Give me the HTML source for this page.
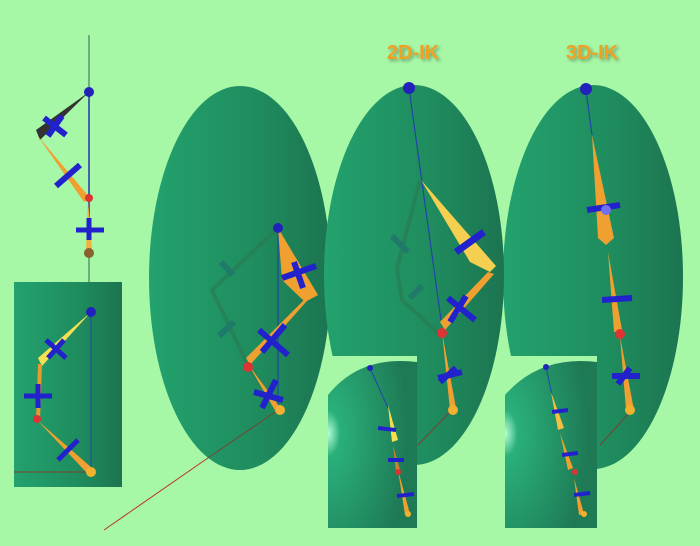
<!DOCTYPE html>
<html><head><meta charset="utf-8"><style>
html,body{margin:0;padding:0;background:#a6f8a6;}
svg{display:block}
text{font-family:"Liberation Sans",sans-serif;font-weight:bold;}
</style></head><body>
<svg width="700" height="546" viewBox="0 0 700 546">
<defs>
<linearGradient id="eg" x1="0" x2="1" y1="0" y2="0">
<stop offset="0" stop-color="#23a26e"/><stop offset="0.6" stop-color="#1f8c5e"/><stop offset="1" stop-color="#1c7450"/></linearGradient>
<radialGradient id="ig" cx="0" cy="0.45" r="0.9">
<stop offset="0" stop-color="#b8ffd8"/><stop offset="0.15" stop-color="#2ab07a"/><stop offset="1" stop-color="#1e7a55"/></radialGradient>
<filter id="sh"><feDropShadow dx="2" dy="2" stdDeviation="1.5" flood-opacity="0.35"/></filter>
</defs>
<rect width="700" height="546" fill="#a6f8a6"/>

<line x1="89" y1="35" x2="89" y2="282" stroke="#336655" stroke-width="1"/>
<line x1="104" y1="530" x2="205" y2="460" stroke="#c03020" stroke-width="1"/>

<ellipse cx="240" cy="278" rx="91" ry="192" fill="url(#eg)"/>
<ellipse cx="593" cy="277" rx="90" ry="192" fill="url(#eg)"/>
<ellipse cx="414" cy="275" rx="90" ry="190" fill="url(#eg)"/>

<text x="413" y="59" text-anchor="middle" font-size="20" fill="#f0a020" filter="url(#sh)">2D-IK</text>
<text x="592" y="59" text-anchor="middle" font-size="20" fill="#f0a020" filter="url(#sh)">3D-IK</text>

<!-- top-left arm -->
<g>
<line x1="89" y1="92" x2="89" y2="255" stroke="#2233aa" stroke-width="1.5"/>
<polygon points="89,92 40,140 36,130" fill="#333"/>
<polygon points="37,135 90,198 84,202" fill="#f0a030"/>
<polygon points="88,200 92,250 86,250" fill="#f0b040"/>
<line x1="44" y1="118" x2="66" y2="135" stroke="#2222cc" stroke-width="6"/>
<line x1="48" y1="136" x2="62" y2="116" stroke="#2222cc" stroke-width="6"/>
<line x1="56" y1="186" x2="80" y2="165" stroke="#2222cc" stroke-width="6"/>
<line x1="76" y1="230" x2="104" y2="230" stroke="#2222cc" stroke-width="5"/>
<line x1="89" y1="218" x2="89" y2="240" stroke="#2222cc" stroke-width="5"/>
<circle cx="89" cy="92" r="5" fill="#2222bb"/>
<circle cx="89" cy="198" r="4" fill="#dd3333"/>
<circle cx="89" cy="253" r="5" fill="#8a6030"/>
</g>

<rect x="14" y="282" width="108" height="205" fill="url(#eg)"/>
<g>
<line x1="91" y1="312" x2="91" y2="470" stroke="#2244aa" stroke-width="1"/>
<line x1="14" y1="472" x2="90" y2="472" stroke="#774433" stroke-width="1"/>
<polygon points="91,312 38,358 42,366" fill="#f5e050"/>
<polygon points="38,364 42,364 40,420 36,420" fill="#e89a30"/>
<polygon points="37,420 92,468 86,472" fill="#f0a030"/>
<line x1="46" y1="340" x2="66" y2="358" stroke="#2222cc" stroke-width="5"/>
<line x1="48" y1="358" x2="64" y2="340" stroke="#2222cc" stroke-width="5"/>
<line x1="24" y1="396" x2="52" y2="396" stroke="#2222cc" stroke-width="5"/>
<line x1="38" y1="384" x2="38" y2="408" stroke="#2222cc" stroke-width="5"/>
<line x1="58" y1="460" x2="78" y2="440" stroke="#2222cc" stroke-width="5"/>
<circle cx="91" cy="312" r="5" fill="#2222bb"/>
<circle cx="37" cy="419" r="4" fill="#dd3333"/>
<circle cx="91" cy="472" r="5" fill="#f0b030"/>
</g>

<!-- middle ellipse arm -->
<g>
<polyline points="278,228 212,290 248,365 278,410" fill="none" stroke="#2a7a50" stroke-width="4" opacity="0.6"/>
<line x1="221" y1="262" x2="233" y2="275" stroke="#207a6a" stroke-width="6"/>
<line x1="219" y1="336" x2="234" y2="322" stroke="#207a6a" stroke-width="6"/>
<line x1="278" y1="228" x2="278" y2="405" stroke="#2244aa" stroke-width="1.2"/>
<line x1="278" y1="410" x2="205" y2="460" stroke="#774433" stroke-width="1"/>
<polygon points="278,228 318,295 305,302 282,280" fill="#f0a030"/>
<polygon points="314,293 250,365 246,358 308,296" fill="#f0a030"/>
<polygon points="248,364 282,410 276,412" fill="#f0a030"/>
<line x1="282" y1="278" x2="316" y2="266" stroke="#2222cc" stroke-width="6"/>
<line x1="294" y1="262" x2="303" y2="288" stroke="#2222cc" stroke-width="6"/>
<line x1="259" y1="330" x2="288" y2="355" stroke="#2222cc" stroke-width="6"/>
<line x1="262" y1="352" x2="285" y2="325" stroke="#2222cc" stroke-width="6"/>
<line x1="254" y1="392" x2="283" y2="400" stroke="#2222cc" stroke-width="6"/>
<line x1="262" y1="408" x2="276" y2="380" stroke="#2222cc" stroke-width="6"/>
<circle cx="278" cy="228" r="5" fill="#2222bb"/>
<circle cx="248" cy="367" r="5" fill="#dd3333"/>
<circle cx="280" cy="410" r="5" fill="#f0b030"/>
</g>

<!-- 2D-IK arm -->
<g>
<polyline points="420,180 397,268 402,300 440,335" fill="none" stroke="#2a7a50" stroke-width="4" opacity="0.6"/>
<line x1="392" y1="236" x2="408" y2="252" stroke="#207a6a" stroke-width="6"/>
<line x1="410" y1="298" x2="422" y2="286" stroke="#207a6a" stroke-width="6"/>
<line x1="409" y1="88" x2="441" y2="320" stroke="#2244aa" stroke-width="1.2"/>
<line x1="452" y1="410" x2="418" y2="445" stroke="#774433" stroke-width="1"/>
<polygon points="421,180 496,266 490,272 470,262" fill="#f5d050"/>
<polygon points="494,274 445,330 440,322 488,272" fill="#f0a030"/>
<polygon points="442,332 456,408 450,410" fill="#f0a030"/>
<line x1="456" y1="252" x2="484" y2="232" stroke="#2222cc" stroke-width="7"/>
<line x1="448" y1="298" x2="475" y2="320" stroke="#2222cc" stroke-width="6"/>
<line x1="450" y1="322" x2="466" y2="296" stroke="#2222cc" stroke-width="6"/>
<line x1="438" y1="378" x2="462" y2="372" stroke="#2222cc" stroke-width="6"/>
<line x1="440" y1="382" x2="456" y2="368" stroke="#2222cc" stroke-width="6"/>
<circle cx="409" cy="88" r="6" fill="#2222bb"/>
<circle cx="442" cy="333" r="5" fill="#dd3333"/>
<circle cx="453" cy="410" r="5" fill="#f0b030"/>
</g>

<!-- 3D-IK arm -->
<g>
<line x1="586" y1="90" x2="592" y2="135" stroke="#2244aa" stroke-width="1.2"/>
<line x1="630" y1="412" x2="600" y2="445" stroke="#774433" stroke-width="1"/>
<polygon points="592,135 614,238 606,245 598,238" fill="#f0a030"/>
<polygon points="608,252 622,330 614,332" fill="#f0a030"/>
<polygon points="620,336 634,410 626,410" fill="#f0a030"/>
<line x1="587" y1="210" x2="620" y2="205" stroke="#2222cc" stroke-width="6"/>
<circle cx="606" cy="210" r="5" fill="#7070ee"/>
<line x1="602" y1="300" x2="632" y2="298" stroke="#2222cc" stroke-width="6"/>
<line x1="612" y1="376" x2="640" y2="376" stroke="#2222cc" stroke-width="6"/>
<line x1="618" y1="384" x2="630" y2="368" stroke="#2222cc" stroke-width="6"/>
<circle cx="586" cy="89" r="6" fill="#2222bb"/>
<circle cx="620" cy="334" r="5" fill="#dd3333"/>
<circle cx="630" cy="410" r="5" fill="#f0b030"/>
</g>

<!-- bottom insets -->
<g>
<rect x="328" y="356" width="89" height="172" fill="url(#ig)"/>
<path d="M328,356 L417,356 L417,362 Q360,355 328,395 Z" fill="#a6f8a6"/>
<line x1="370" y1="368" x2="388" y2="408" stroke="#2244aa" stroke-width="1"/>
<polygon points="388,405 398,440 392,442" fill="#f5e050"/>
<polygon points="393,445 400,470 396,472" fill="#d08030"/>
<polygon points="398,470 410,514 405,515" fill="#f0a030"/>
<line x1="378" y1="428" x2="396" y2="430" stroke="#2222cc" stroke-width="4"/>
<line x1="388" y1="460" x2="404" y2="460" stroke="#2222cc" stroke-width="4"/>
<line x1="397" y1="496" x2="414" y2="494" stroke="#2222cc" stroke-width="4"/>
<circle cx="370" cy="368" r="3" fill="#2222bb"/>
<circle cx="398" cy="472" r="3" fill="#dd3333"/>
<circle cx="408" cy="514" r="3" fill="#f0b030"/>
</g>
<g>
<rect x="505" y="356" width="92" height="172" fill="url(#ig)"/>
<path d="M505,356 L597,356 L597,362 Q540,355 505,395 Z" fill="#a6f8a6"/>
<line x1="546" y1="367" x2="552" y2="395" stroke="#2244aa" stroke-width="1"/>
<polygon points="551,392 564,428 558,430" fill="#f5c040"/>
<polygon points="560,433 573,468 568,470" fill="#f0a030"/>
<polygon points="574,478 584,514 579,515" fill="#f0a030"/>
<line x1="552" y1="412" x2="568" y2="410" stroke="#2222cc" stroke-width="4"/>
<line x1="562" y1="455" x2="578" y2="453" stroke="#2222cc" stroke-width="4"/>
<line x1="574" y1="495" x2="590" y2="493" stroke="#2222cc" stroke-width="4"/>
<circle cx="546" cy="367" r="3" fill="#2222bb"/>
<circle cx="575" cy="472" r="3" fill="#dd3333"/>
<circle cx="584" cy="514" r="3" fill="#f0b030"/>
</g>
</svg>
</body></html>
